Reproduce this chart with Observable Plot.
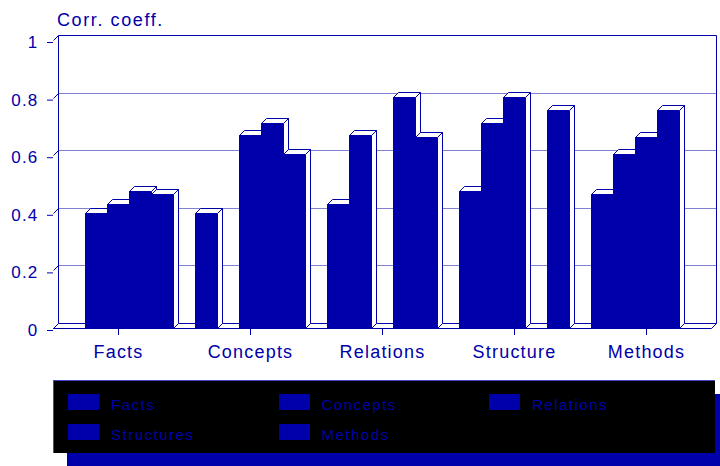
<!DOCTYPE html>
<html>
<head>
<meta charset="utf-8">
<script src="https://cdn.jsdelivr.net/npm/d3@7"></script>
<script src="https://cdn.jsdelivr.net/npm/@observablehq/plot@0.6"></script>
<style>
  html, body { margin: 0; padding: 0; background: #fff; }
  body { width: 720px; height: 466px; overflow: hidden; position: relative; font-family: "Liberation Sans", Arial, sans-serif; }
  #chart svg text { letter-spacing: 1.2px; }
  #title { position: absolute; left: 57px; top: 10.5px; font-size: 18px; line-height: 18px; letter-spacing: 1.6px; color: #0000AA; white-space: nowrap; }
  #legend { position: absolute; left: 53px; top: 380px; width: 662px; height: 73px; box-sizing: border-box; background: #000;
            border-top: 1px solid #4646c8; border-left: 1px solid #4646c8; box-shadow: 14px 14px 0 #0000AA; }
  .sw { position: absolute; width: 31px; height: 16px; background: #0000AA; }
  .lt { position: absolute; font-size: 15px; line-height: 15px; letter-spacing: 1.5px; color: #0000AA; white-space: nowrap; }
</style>
</head>
<body>
<div id="chart"></div>
<div id="title">Corr. coeff.</div>
<div id="legend"></div>
<script>
// ---- data ----
const groups = ["Facts", "Concepts", "Relations", "Structure", "Methods"];
const seriesNames = ["Facts", "Concepts", "Relations", "Structures", "Methods"];
const factsValues     = [null, 0.40, 0.43, 0.475, 0.465];
const conceptsValues  = [0.40, null, 0.67, 0.713, 0.604];
const relationsValues = [0.43, 0.67, null, 0.803, 0.662];
const structureValues = [0.475, 0.713, 0.803, null, 0.757];
const methodsValues   = [0.465, 0.604, 0.662, 0.757, null];
const yTicks = [0, 0.2, 0.4, 0.6, 0.8, 1];
const gridValues = [0.2, 0.4, 0.6, 0.8];

const BLUE = "#0000AA";
const groupValues = [factsValues, conceptsValues, relationsValues, structureValues, methodsValues];
const slot = seriesNames.length + 1;           // 5 bars + 1 gap per group
const pad = 10 / 22;
const xMin = -pad, xMax = groups.length * slot - 1 + pad;
const groupCenters = groups.map((g, i) => i * slot + seriesNames.length / 2);

const bars = groups.flatMap((g, gi) =>
  seriesNames.map((s, si) => ({group: g, series: s, x1: gi * slot + si, x2: gi * slot + si + 1, value: groupValues[gi][si]}))
).filter(d => d.value != null);

const D = 5; // depth offset (px)

function line(g, pts, opts = {}) {
  const p = g.append("path")
    .attr("d", "M" + pts.map(q => q.join(",")).join("L") + (opts.close ? "Z" : ""))
    .attr("fill", opts.fill || "none")
    .attr("stroke", opts.stroke || BLUE)
    .attr("stroke-width", 1);
  if (opts.dash) p.attr("stroke-dasharray", opts.dash);
  return p;
}
const r = v => Math.round(v) + 0.5;

function scene(index, scales) {
  const x = scales.x, y = scales.y;
  const g = d3.create("svg:g");
  const L = r(x(xMin)), R = r(x(xMax)), Y0 = r(y(0)), Y1 = r(y(1));
  // floor
  line(g, [[L, Y0], [R, Y0], [R + D, Y0 - D], [L + D, Y0 - D]], {close: true, fill: "#fff"});
  // back wall
  line(g, [[L + D, Y0 - D], [L + D, Y1 - D], [R + D, Y1 - D], [R + D, Y0 - D]]);
  // gridlines on back wall
  for (const v of gridValues) {
    const yy = r(y(v)) - D;
    line(g, [[L + D, yy], [R + D, yy]], {dash: "1,1"});
  }
  // y tick diagonals
  for (const v of yTicks) {
    const yy = r(y(v));
    line(g, [[L, yy], [L + D, yy - D]]);
  }
  // bars, left to right
  for (const d of bars) {
    const a = Math.round(x(d.x1)), b = Math.round(x(d.x2));
    const t = Math.round(y(d.value)), z = Math.round(y(0));
    g.append("rect").attr("x", a).attr("y", t).attr("width", b - a).attr("height", z - t + 1).attr("fill", BLUE);
    line(g, [[a + 0.5, t + 0.5], [a + 0.5 + D, t + 0.5 - D], [b + 0.5 + D, t + 0.5 - D], [b + 0.5, t + 0.5]], {close: true, fill: "#fff"});
    line(g, [[b + 0.5, t + 0.5], [b + 0.5 + D, t + 0.5 - D], [b + 0.5 + D, z + 0.5 - D], [b + 0.5, z + 0.5]], {close: true, fill: "#fff"});
  }
  return g.node();
}

const chart = Plot.plot({
  width: 720,
  height: 370,
  marginLeft: 53,
  marginRight: 9,
  marginTop: 40,
  marginBottom: 42,
  style: {fontFamily: "'Liberation Sans', Arial, sans-serif", background: "#fff", color: BLUE, overflow: "visible"},
  x: {domain: [xMin, xMax], axis: null},
  y: {domain: [0, 1], axis: null},
  marks: [
    scene,
    Plot.axisY(yTicks, {tickSize: 6, tickPadding: 9, tickFormat: d => String(d), fontSize: 17, color: BLUE, dy: 2, label: null}),
    Plot.axisX(groupCenters, {tickSize: 7, tickPadding: 10, tickFormat: d => groups[Math.round((d - seriesNames.length / 2) / slot)], fontSize: 18, color: BLUE, label: null})
  ]
});
document.getElementById("chart").appendChild(chart);

// legend
const legend = document.getElementById("legend");
seriesNames.forEach((s, i) => {
  const col = i % 3, row = Math.floor(i / 3);
  const sw = document.createElement("div");
  sw.className = "sw";
  sw.style.left = (14 + col * 210.5) + "px";
  sw.style.top = (13 + row * 30) + "px";
  legend.appendChild(sw);
  const t = document.createElement("div");
  t.className = "lt";
  t.textContent = s;
  t.style.left = (57 + col * 210.5) + "px";
  t.style.top = (16.3 + row * 30) + "px";
  legend.appendChild(t);
});
</script>
</body>
</html>
